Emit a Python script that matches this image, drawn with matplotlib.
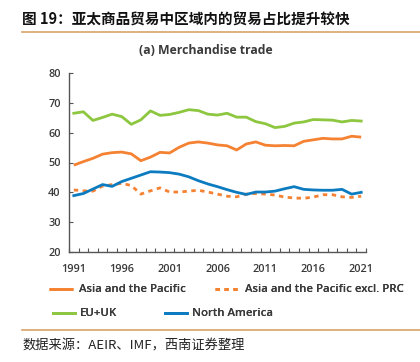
import matplotlib
matplotlib.use("Agg")
import matplotlib.pyplot as plt
from matplotlib.lines import Line2D

years = list(range(1991, 2022))
asia_pacific = [49.1, 50.3, 51.4, 52.8, 53.3, 53.5, 52.9, 50.6, 51.8, 53.4, 53.2, 55.1, 56.5, 56.9, 56.5,
                55.9, 55.6, 54.2, 56.2, 56.9, 55.8, 55.6, 55.7, 55.6, 57.1, 57.6, 58.1, 57.9, 57.9, 58.8, 58.5]
asia_pacific_excl_prc = [40.8, 40.5, 40.4, 42.1, 42.6, 43.0, 42.3, 39.4, 40.5, 41.5, 40.1, 40.1, 40.4, 40.7, 40.1,
                         39.4, 38.7, 38.5, 39.4, 39.6, 39.4, 39.1, 38.4, 38.1, 38.0, 38.4, 39.2, 39.2, 38.5, 38.3, 38.7]
eu_uk = [66.5, 67.0, 64.1, 65.1, 66.2, 65.4, 62.8, 64.3, 67.3, 65.8, 66.1, 66.8, 67.7, 67.4, 66.2,
         65.9, 66.5, 65.2, 65.2, 63.7, 63.0, 61.7, 62.1, 63.2, 63.6, 64.4, 64.3, 64.2, 63.6, 64.1, 63.9]
north_america = [38.9, 39.6, 41.1, 42.6, 42.0, 43.6, 44.7, 45.8, 46.9, 46.8, 46.6, 46.1, 45.2, 43.9, 42.8,
                 41.9, 40.9, 40.0, 39.3, 40.1, 40.1, 40.4, 41.2, 41.9, 41.0, 40.8, 40.7, 40.7, 41.0, 39.4, 40.0]
series_names = ["Asia and the Pacific", "Asia and the Pacific excl. PRC", "EU+UK", "North America"]
xtick_labels = [1991, 1996, 2001, 2006, 2011, 2016, 2021]
yticks = [20, 30, 40, 50, 60, 70, 80]

ORANGE = "#F58232"
GREEN = "#8DC63F"
BLUE = "#0C7BC0"
TXT = "#3a3a3a"
RULE = "#D9A36A"
FONT = "Open Sans"
FW = "semibold"

W, H = 420, 362
fig = plt.figure(figsize=(4.2, 3.62), dpi=100)
fig.patch.set_facecolor("white")

def fx(px):
    return px / W

def fy(py):
    return 1 - py / H

ax = fig.add_axes([fx(69), fy(252), fx(366) - fx(69), fy(73) - fy(252)])

l1, = ax.plot(years, asia_pacific, color=ORANGE, lw=2.0, solid_capstyle="butt")
l2, = ax.plot(years, asia_pacific_excl_prc, color=ORANGE, lw=2.0, linestyle=(0, (1.6, 1.6)))
l3, = ax.plot(years, eu_uk, color=GREEN, lw=2.0)
l4, = ax.plot(years, north_america, color=BLUE, lw=2.0)

ax.set_xlim(1990.5, 2021.5)
ax.set_ylim(20, 80)
ax.set_yticks(yticks)
ax.set_yticklabels([str(v) for v in yticks], fontsize=7.8, color=TXT, family=FONT, weight=FW)
ax.set_xticks([y - 0.5 for y in years] + [2021.5])
ax.set_xticklabels([])
ax.set_xticks(xtick_labels, minor=True)
ax.set_xticklabels([str(v) for v in xtick_labels], minor=True, fontsize=7.8, color=TXT,
                   family=FONT, weight=FW)
ax.tick_params(axis="x", which="major", direction="in", length=3, color="#555555", width=0.8)
ax.tick_params(axis="x", which="minor", length=0, pad=9)
ax.tick_params(axis="y", direction="in", length=3, color="#555555", width=0.8, pad=6)
for s in ["top", "right"]:
    ax.spines[s].set_visible(False)
for s in ["left", "bottom"]:
    ax.spines[s].set_color("#555555")
    ax.spines[s].set_linewidth(1.0)

# Titles
fig.text(fx(22), fy(20), "图 19：亚太商品贸易中区域内的贸易占比提升较快", fontsize=10.5, weight="bold",
         family=["Noto Sans CJK SC", "DejaVu Sans"], color="#111111", va="center", ha="left")
fig.add_artist(Line2D([fx(22), fx(420)], [fy(32), fy(32)], color=RULE, lw=1.2))
fig.text(fx(206), fy(50), "(a) Merchandise trade", fontsize=8.8, weight="bold", family=FONT,
         color=TXT, va="center", ha="center")

# Legend entries, each placed individually
entries = [(l1, series_names[0], 49, 290, 2.15),
           (l2, series_names[1], 215, 290, 2.15),
           (l3, series_names[2], 53, 314, 1.9),
           (l4, series_names[3], 165, 314, 1.9)]
for handle, name, px, py, hl in entries:
    lg = fig.legend([handle], [name], loc="center left", bbox_to_anchor=(fx(px), fy(py)),
                    frameon=False, prop={"family": FONT, "size": 8.2, "weight": FW},
                    handlelength=hl, handletextpad=0.45, borderaxespad=0, borderpad=0)
    for t in lg.get_texts():
        t.set_color(TXT)
    fig.add_artist(lg)

fig.add_artist(Line2D([fx(22), fx(420)], [fy(330), fy(330)], color=RULE, lw=1.2))
fig.text(fx(22), fy(346), "数据来源：AEIR、IMF，西南证券整理", fontsize=9.5, style="italic",
         family=["Noto Sans CJK SC", "DejaVu Sans"], color="#222222", va="center", ha="left")

fig.savefig("out.png", dpi=100, facecolor="white")
